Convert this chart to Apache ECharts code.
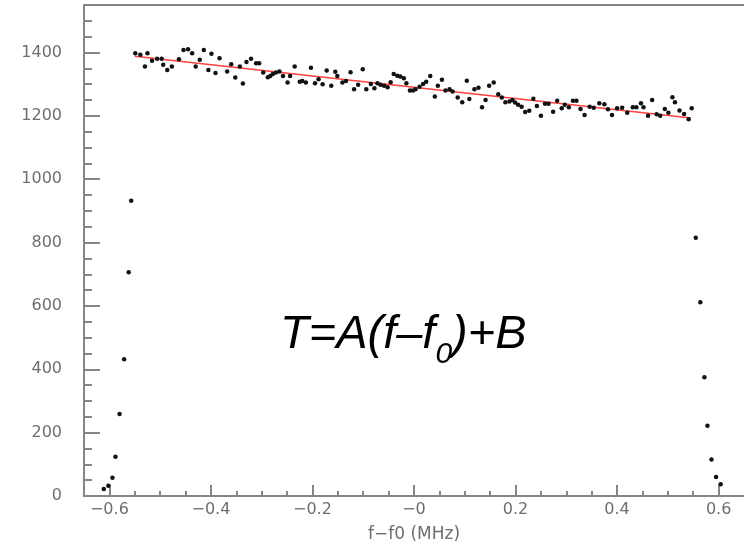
<!DOCTYPE html>
<html>
<head>
<meta charset="utf-8">
<style>
  html, body { margin: 0; padding: 0; background: #fff; }
  #chart { width: 744px; height: 551px; }
</style>
<script src="https://cdn.jsdelivr.net/npm/echarts@6.0.0/dist/echarts.min.js"></script>
</head>
<body>
<div id="chart"></div>
<script>
// Frequency scan: offset from f0 (MHz) and measured T
const edgeLowX = [-0.611, -0.602, -0.594, -0.588, -0.580, -0.571, -0.562, -0.557];
const edgeLowY = [22, 32, 58, 124, 259, 432, 706, 932];

const plateauX = [
  -0.549, -0.539, -0.530, -0.525, -0.516, -0.506, -0.497, -0.494, -0.486, -0.477,
  -0.463, -0.454, -0.445, -0.437, -0.430, -0.422, -0.414, -0.405, -0.399, -0.391,
  -0.383, -0.368, -0.360, -0.352, -0.343, -0.337, -0.330, -0.321, -0.311, -0.305,
  -0.297, -0.288, -0.283, -0.278, -0.272, -0.265, -0.258, -0.249, -0.244, -0.235,
  -0.225, -0.220, -0.213, -0.203, -0.195, -0.188, -0.180, -0.172, -0.163, -0.155,
  -0.151, -0.141, -0.134, -0.125, -0.118, -0.110, -0.101, -0.094, -0.085, -0.078,
  -0.072, -0.066, -0.059, -0.052, -0.046, -0.040, -0.033, -0.027, -0.020, -0.015,
  -0.008, -0.002, 0.003, 0.011, 0.018, 0.024, 0.032, 0.041, 0.047, 0.055,
  0.062, 0.070, 0.076, 0.086, 0.095, 0.104, 0.109, 0.119, 0.127, 0.134,
  0.141, 0.148, 0.157, 0.166, 0.173, 0.180, 0.188, 0.194, 0.199, 0.205,
  0.212, 0.219, 0.227, 0.235, 0.242, 0.250, 0.258, 0.265, 0.274, 0.282,
  0.291, 0.297, 0.305, 0.313, 0.320, 0.328, 0.336, 0.346, 0.354, 0.365,
  0.375, 0.382, 0.390, 0.400, 0.410, 0.420, 0.431, 0.438, 0.447, 0.452,
  0.461, 0.469, 0.478, 0.485, 0.494, 0.501, 0.509, 0.514, 0.523, 0.532,
  0.541, 0.547
];
const plateauY = [
  1398, 1393, 1356, 1398, 1374, 1380, 1380, 1361, 1345, 1356,
  1379, 1408, 1410, 1398, 1356, 1377, 1408, 1345, 1396, 1335,
  1382, 1340, 1363, 1321, 1356, 1302, 1370, 1380, 1366, 1366,
  1337, 1322, 1326, 1332, 1337, 1340, 1326, 1305, 1326, 1356,
  1308, 1310, 1305, 1352, 1303, 1316, 1300, 1343, 1295, 1339,
  1326, 1305, 1310, 1338, 1284, 1298, 1347, 1284, 1301, 1287,
  1303, 1298, 1295, 1290, 1306, 1332, 1327, 1324, 1319, 1303,
  1280, 1280, 1284, 1292, 1301, 1308, 1326, 1261, 1295, 1314,
  1280, 1284, 1277, 1258, 1243, 1311, 1253, 1284, 1289, 1227,
  1250, 1295, 1305, 1268, 1258, 1243, 1245, 1250, 1242, 1235,
  1229, 1212, 1216, 1254, 1231, 1200, 1238, 1238, 1213, 1248,
  1224, 1235, 1227, 1248, 1248, 1222, 1203, 1229, 1226, 1240,
  1237, 1221, 1203, 1224, 1226, 1210, 1227, 1227, 1240, 1227,
  1200, 1250, 1205, 1200, 1222, 1210, 1259, 1243, 1217, 1206,
  1189, 1224
];

const edgeHighX = [0.555, 0.564, 0.572, 0.578, 0.586, 0.595, 0.604];
const edgeHighY = [815, 612, 375, 222, 115, 60, 37];

// Linear fit T = A(f - f0) + B over the plateau
const fitX = [-0.55, 0.545];
const fitY = [1388, 1193];

// Axis ticks and labels
const xTickValues = [-0.6, -0.4, -0.2, 0, 0.2, 0.4, 0.6];
const xTickLabels = ['\u22120.6', '\u22120.4', '\u22120.2', '\u22120', '0.2', '0.4', '0.6'];
const xMinorValues = [-0.55, -0.5, -0.45, -0.35, -0.3, -0.25, -0.15, -0.1, -0.05,
                      0.05, 0.1, 0.15, 0.25, 0.3, 0.35, 0.45, 0.5, 0.55];
const yTickValues = [0, 200, 400, 600, 800, 1000, 1200, 1400];
const yTickLabels = ['0', '200', '400', '600', '800', '1000', '1200', '1400'];
const yMinorValues = [50, 100, 150, 250, 300, 350, 450, 500, 550, 650, 700, 750,
                      850, 900, 950, 1050, 1100, 1150, 1250, 1300, 1350, 1450, 1500];

const zip = (xs, ys) => xs.map((x, i) => [x, ys[i]]);
const points = zip(edgeLowX, edgeLowY)
  .concat(zip(plateauX, plateauY))
  .concat(zip(edgeHighX, edgeHighY));

const axisGray = '#858585';
const labelGray = '#6e6e6e';
const labelFont = 'DejaVu Sans';
const X_MIN = -0.65, X_MAX = 0.65, Y_MIN = 0, Y_MAX = 1550;

function tickAxis(extra) {
  return Object.assign({
    type: 'value',
    axisLine: { show: false, onZero: false },
    axisLabel: { show: false },
    splitLine: { show: false }
  }, extra);
}

const chart = echarts.init(document.getElementById('chart'), null, { renderer: 'canvas' });

chart.setOption({
  animation: false,
  backgroundColor: '#fff',
  grid: { left: 84, top: 5, right: -3, bottom: 55 },
  xAxis: [
    tickAxis({
      min: X_MIN, max: X_MAX, position: 'bottom',
      axisLine: { show: true, onZero: false, lineStyle: { color: axisGray, width: 2 } },
      axisTick: { show: true, inside: true, length: 11, customValues: xTickValues,
                  lineStyle: { color: axisGray, width: 2 } },
      axisLabel: {
        show: true, customValues: xTickValues, margin: 6,
        color: labelGray, fontFamily: labelFont, fontSize: 16,
        formatter: v => xTickLabels[xTickValues.findIndex(t => Math.abs(t - v) < 1e-9)]
      },
      name: 'f\u2212f0 (MHz)', nameLocation: 'middle', nameGap: 30,
      nameTextStyle: { color: labelGray, fontFamily: labelFont, fontSize: 17 }
    }),
    tickAxis({
      min: X_MIN, max: X_MAX, position: 'bottom',
      axisTick: { show: true, inside: true, length: 5, customValues: xMinorValues,
                  lineStyle: { color: axisGray, width: 2 } }
    }),
    // top edge of the frame
    tickAxis({
      min: X_MIN, max: X_MAX, position: 'top',
      axisLine: { show: true, onZero: false, lineStyle: { color: axisGray, width: 2 } },
      axisTick: { show: false }
    })
  ],
  yAxis: [
    tickAxis({
      min: Y_MIN, max: Y_MAX, position: 'left',
      axisLine: { show: true, onZero: false, lineStyle: { color: axisGray, width: 2 } },
      axisTick: { show: true, inside: true, length: 16, customValues: yTickValues,
                  lineStyle: { color: axisGray, width: 2 } },
      axisLabel: {
        show: true, customValues: yTickValues, margin: 22,
        color: labelGray, fontFamily: labelFont, fontSize: 16,
        formatter: v => yTickLabels[yTickValues.indexOf(v)]
      }
    }),
    tickAxis({
      min: Y_MIN, max: Y_MAX, position: 'left',
      axisTick: { show: true, inside: true, length: 8, customValues: yMinorValues,
                  lineStyle: { color: axisGray, width: 2 } }
    })
  ],
  series: [
    {
      type: 'line',
      xAxisIndex: 0, yAxisIndex: 0,
      data: zip(fitX, fitY),
      symbol: 'none',
      lineStyle: { color: '#ff4040', width: 1.5 },
      z: 2
    },
    {
      type: 'scatter',
      xAxisIndex: 0, yAxisIndex: 0,
      data: points,
      symbol: 'circle',
      symbolSize: 4.5,
      itemStyle: { color: '#111', opacity: 1 },
      z: 3
    }
  ],
  graphic: [
    {
      type: 'text',
      left: 280, top: 311,
      style: {
        text: '{m|T=A(f\u2013f}{s|0}{m|)+B}',
        rich: {
          m: { fontFamily: 'Liberation Sans', fontStyle: 'italic', fontSize: 47,
               lineHeight: 60, verticalAlign: 'top', fill: '#000' },
          s: { fontFamily: 'Liberation Sans', fontStyle: 'italic', fontSize: 30,
               lineHeight: 30, verticalAlign: 'top', padding: [29, 0, 0, 0], fill: '#000' }
        }
      },
      z: 10
    }
  ]
});
</script>
</body>
</html>
